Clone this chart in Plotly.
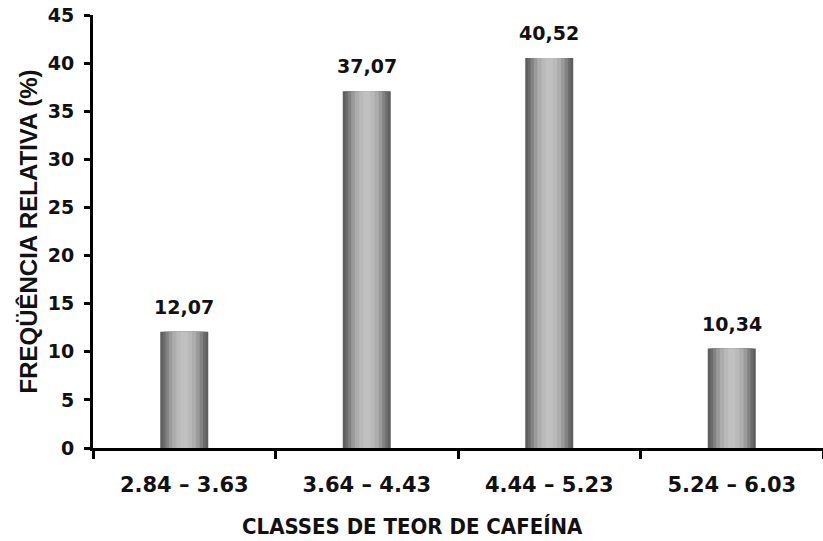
import plotly.graph_objects as go

categories = ["2.84 – 3.63", "3.64 – 4.43", "4.44 – 5.23", "5.24 – 6.03"]
values = [12.07, 37.07, 40.52, 10.34]
value_labels = ["12,07", "37,07", "40,52", "10,34"]
y_ticks = [0, 5, 10, 15, 20, 25, 30, 35, 40, 45]
x_title = "CLASSES DE TEOR DE CAFEÍNA"
y_title = "FREQÜÊNCIA RELATIVA (%)"

# cylinder shading layers (width in category units, colour)
layers = [
    (0.263, "#5e5e5e"),
    (0.235, "#6c6c6c"),
    (0.205, "#828282"),
    (0.17, "#9a9a9a"),
    (0.13, "#adadad"),
    (0.085, "#b9b9b9"),
    (0.04, "#c0c0c0"),
]

fig = go.Figure()
for w, c in layers:
    fig.add_trace(go.Bar(
        x=categories, y=values, width=w,
        marker=dict(color=c, line=dict(width=0)),
        hoverinfo="skip", showlegend=False,
    ))

for cat, v, lab in zip(categories, values, value_labels):
    fig.add_annotation(
        x=cat, y=v, text=lab, showarrow=False, yanchor="bottom", yshift=12,
        font=dict(family="DejaVu Sans", size=19, color="#111111", weight="bold"),
    )

fig.add_annotation(
    xref="paper", yref="paper", x=0.438, y=-0.182, xanchor="center", yanchor="middle",
    text=x_title, showarrow=False,
    font=dict(family="DejaVu Sans Condensed, Liberation Sans", size=22, color="#111111", weight="bold"),
)

fig.update_layout(
    width=823, height=541,
    margin=dict(l=93, r=0, t=15, b=93),
    barmode="overlay",
    plot_bgcolor="white", paper_bgcolor="white",
    showlegend=False,
)
fig.update_xaxes(
    type="category", tickson="boundaries", automargin=False,
    showline=True, linecolor="black", linewidth=3,
    ticks="outside", ticklen=8, tickwidth=3, tickcolor="black",
    ticklabelstandoff=16,
    tickfont=dict(family="DejaVu Sans", size=21, color="#111111", weight="bold"),
    showgrid=False, zeroline=False,
    range=[-0.5, 3.5],
)
fig.update_yaxes(
    range=[0, 45], tickvals=y_ticks, automargin=False,
    showline=True, linecolor="black", linewidth=3,
    ticks="outside", ticklen=6, tickwidth=3, tickcolor="black",
    ticklabelstandoff=6,
    tickfont=dict(family="DejaVu Sans", size=19, color="#111111", weight="bold"),
    showgrid=False, zeroline=False,
    title=dict(text=y_title, standoff=4,
               font=dict(family="Liberation Sans", size=24, color="#111111", weight="bold")),
)

fig.write_html("out.html", config={"displayModeBar": False},
               post_script="document.body.style.margin='0';document.body.style.overflow='hidden';")
